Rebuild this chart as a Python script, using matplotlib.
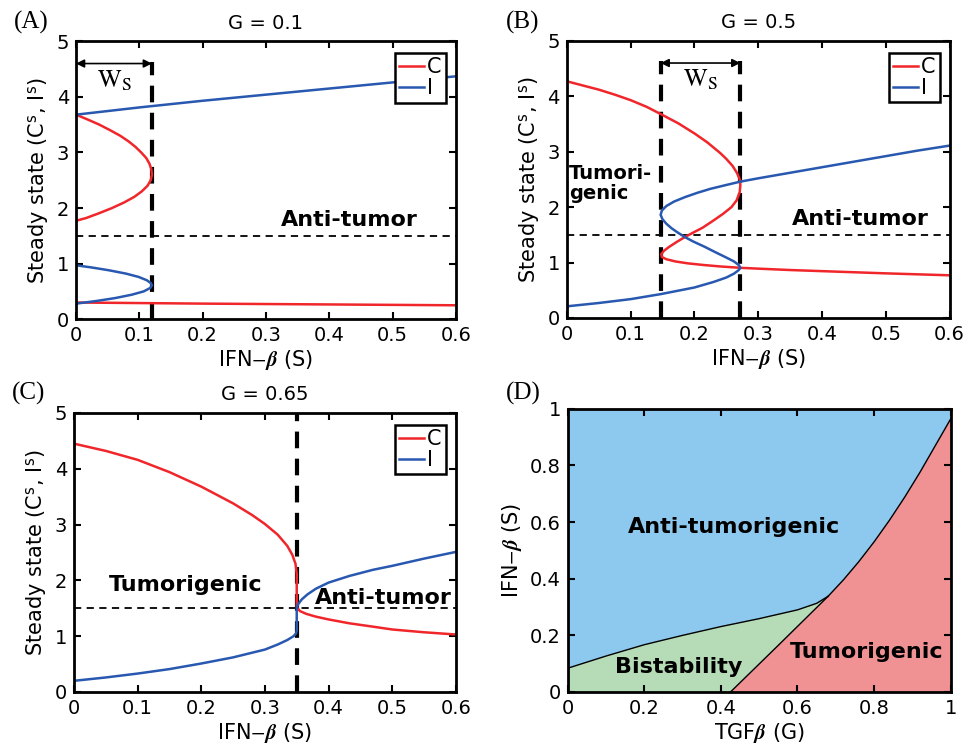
import matplotlib.pyplot as plt

plt.rcParams['font.family'] = ['DejaVu Sans']
plt.rcParams['mathtext.fontset'] = 'stix'

RED = '#f0262a'
BLUE = '#2858b0'

# (A) G = 0.1
a_iup_s = [0, 0.1, 0.2, 0.3, 0.4, 0.5, 0.6]
a_iup_v = [3.68, 3.81, 3.93, 4.04, 4.15, 4.26, 4.37]
a_clow_s = [0, 0.2, 0.4, 0.6]
a_clow_v = [0.30, 0.28, 0.265, 0.25]
a_cfold_s = [0, 0.017, 0.037, 0.054, 0.070, 0.083, 0.094, 0.103, 0.111, 0.116, 0.119,
             0.12, 0.118, 0.113, 0.104, 0.092, 0.076, 0.057, 0.035, 0.016, 0]
a_cfold_v = [3.68, 3.60, 3.50, 3.40, 3.30, 3.20, 3.10, 3.00, 2.90, 2.80, 2.70,
             2.60, 2.50, 2.40, 2.30, 2.20, 2.10, 2.00, 1.90, 1.82, 1.77]
a_ifold_s = [0, 0.025, 0.052, 0.079, 0.099, 0.112, 0.118, 0.12, 0.117, 0.107,
             0.088, 0.062, 0.034, 0.014, 0]
a_ifold_v = [0.97, 0.93, 0.88, 0.82, 0.76, 0.70, 0.65, 0.61, 0.56, 0.50,
             0.44, 0.38, 0.33, 0.30, 0.28]
a_sn = 0.12

# (B) G = 0.5
b_c_s = [0, 0.05, 0.075, 0.1, 0.125, 0.147, 0.175, 0.2, 0.22, 0.24, 0.25, 0.26, 0.267,
         0.271, 0.272, 0.271,
         0.266, 0.258, 0.245, 0.23, 0.213, 0.198, 0.185, 0.172, 0.16, 0.152, 0.148,
         0.149, 0.156, 0.17, 0.19, 0.215, 0.24, 0.272, 0.3, 0.35, 0.4, 0.45, 0.5, 0.6]
b_c_v = [4.27, 4.12, 4.03, 3.93, 3.81, 3.68, 3.51, 3.33, 3.17, 2.98, 2.87, 2.74, 2.61,
         2.50, 2.40, 2.27,
         2.12, 2.00, 1.88, 1.76, 1.63, 1.54, 1.46, 1.37, 1.28, 1.21, 1.15,
         1.10, 1.06, 1.02, 0.985, 0.955, 0.93, 0.905, 0.89, 0.865, 0.845, 0.825, 0.805, 0.77]
b_i_s = [0, 0.05, 0.1, 0.147, 0.2, 0.23, 0.25, 0.262, 0.269, 0.272, 0.27, 0.262,
         0.25, 0.234, 0.215, 0.198, 0.185, 0.174, 0.164, 0.156, 0.15, 0.147, 0.149,
         0.156, 0.168, 0.185, 0.205, 0.225, 0.25, 0.272, 0.3, 0.35, 0.4, 0.45, 0.5,
         0.55, 0.6]
b_i_v = [0.21, 0.27, 0.34, 0.43, 0.55, 0.65, 0.73, 0.80, 0.86, 0.90, 0.95, 1.02,
         1.09, 1.18, 1.29, 1.38, 1.46, 1.54, 1.62, 1.70, 1.78, 1.86, 1.94,
         2.02, 2.10, 2.18, 2.26, 2.33, 2.40, 2.46, 2.52, 2.62, 2.72, 2.82, 2.92,
         3.02, 3.11]
b_sn = [0.147, 0.272]

# (C) G = 0.65
c_c_s = [0, 0.05, 0.1, 0.15, 0.2, 0.25, 0.28, 0.3, 0.32, 0.335, 0.343, 0.348, 0.35,
         0.35, 0.355, 0.365, 0.38, 0.40, 0.433, 0.47, 0.5, 0.55, 0.6]
c_c_v = [4.45, 4.32, 4.16, 3.94, 3.68, 3.38, 3.17, 3.01, 2.82, 2.62, 2.46, 2.30, 2.12,
         1.52, 1.45, 1.40, 1.35, 1.30, 1.23, 1.17, 1.12, 1.07, 1.03]
c_i_s = [0, 0.05, 0.1, 0.15, 0.2, 0.25, 0.3, 0.32, 0.335, 0.345, 0.349, 0.35,
         0.35, 0.352, 0.358, 0.367, 0.38, 0.40, 0.433, 0.47, 0.5, 0.55, 0.6]
c_i_v = [0.20, 0.26, 0.33, 0.41, 0.51, 0.62, 0.76, 0.85, 0.93, 1.00, 1.05, 1.10,
         1.50, 1.57, 1.66, 1.75, 1.85, 1.96, 2.08, 2.19, 2.26, 2.39, 2.51]
c_sn = 0.35

# (D) phase diagram
d_bi_up_g = [0, 0.1, 0.2, 0.3, 0.4, 0.5, 0.6, 0.65, 0.68]
d_bi_up_s = [0.084, 0.127, 0.167, 0.200, 0.231, 0.259, 0.290, 0.313, 0.338]
d_bi_low_g = [0.425, 0.55, 0.68]
d_bi_low_s = [0, 0.165, 0.338]
d_tum_g = [0.68, 0.72, 0.76, 0.80, 0.84, 0.88, 0.92, 0.96, 1.0]
d_tum_s = [0.338, 0.396, 0.460, 0.530, 0.606, 0.688, 0.776, 0.870, 0.964]

xlab = r'IFN$-\boldsymbol{\beta}$ (S)'
ylab = r'Steady state (C$^\mathregular{s}$, I$^\mathregular{s}$)'

fig = plt.figure(figsize=(9.79, 7.51), dpi=100)
axA = fig.add_axes([0.0776, 0.575, 0.388, 0.370])
axB = fig.add_axes([0.579, 0.5766, 0.391, 0.369])
axC = fig.add_axes([0.0756, 0.0786, 0.390, 0.3715])
axD = fig.add_axes([0.580, 0.0786, 0.391, 0.377])


def style(ax, xt, xl, yt, yl):
    ax.set_xticks(xt)
    ax.set_xticklabels(xl)
    ax.set_yticks(yt)
    ax.set_yticklabels(yl)
    ax.tick_params(direction='in', top=True, right=True, length=5, width=1.5,
                   labelsize=14, pad=5)
    for sp in ax.spines.values():
        sp.set_linewidth(2)


def bif_panel(ax, title):
    ax.set_xlim(0, 0.6)
    ax.set_ylim(0, 5)
    style(ax, [0, 0.1, 0.2, 0.3, 0.4, 0.5, 0.6],
          ['0', '0.1', '0.2', '0.3', '0.4', '0.5', '0.6'],
          [0, 1, 2, 3, 4, 5], ['0', '1', '2', '3', '4', '5'])
    ax.set_title(title, fontsize=14, pad=9)
    ax.set_xlabel(xlab, fontsize=15, labelpad=2)
    ax.set_ylabel(ylab, fontsize=15, labelpad=4)
    ax.axhline(1.5, color='k', lw=1.3, ls=(0, (4, 3)), zorder=1)


def legend(ax):
    lg = ax.legend(loc='upper right', fontsize=15, handlelength=1.2,
                   handletextpad=0.15, borderpad=0.2, labelspacing=0.05,
                   borderaxespad=0, fancybox=False, framealpha=1, edgecolor='k',
                   bbox_to_anchor=(0.974, 0.957))
    lg.get_frame().set_linewidth(1.8)


def ws_arrow(ax, x0, x1):
    ax.annotate('', xy=(x0, 4.6), xytext=(x1, 4.6),
                arrowprops=dict(arrowstyle='<|-|>', color='k', lw=1.2,
                                mutation_scale=12, shrinkA=0, shrinkB=0))
    ax.text((x0 + x1) / 2, 4.3, r'$\mathrm{W_S}$', fontsize=18,
            ha='center', va='center')


vdash = dict(color='k', lw=3, ls=(0, (4, 2.5)), zorder=1)
bold = dict(fontsize=16, fontweight='bold', va='center')

# Panel A
bif_panel(axA, 'G = 0.1')
axA.plot(a_cfold_s, a_cfold_v, color=RED, lw=1.8, label='C')
axA.plot(a_iup_s, a_iup_v, color=BLUE, lw=1.8, label='I')
axA.plot(a_clow_s, a_clow_v, color=RED, lw=1.8)
axA.plot(a_ifold_s, a_ifold_v, color=BLUE, lw=1.8)
axA.plot([a_sn, a_sn], [0, 4.63], **vdash)
ws_arrow(axA, 0, a_sn)
axA.text(0.432, 1.78, 'Anti-tumor', ha='center', **bold)
legend(axA)

# Panel B
bif_panel(axB, 'G = 0.5')
axB.plot(b_c_s, b_c_v, color=RED, lw=1.8, label='C')
axB.plot(b_i_s, b_i_v, color=BLUE, lw=1.8, label='I')
for s in b_sn:
    axB.plot([s, s], [0, 4.63], **vdash)
ws_arrow(axB, b_sn[0], b_sn[1])
axB.text(0.003, 2.43, 'Tumori-\ngenic', ha='left', linespacing=1.1,
         fontsize=14, fontweight='bold', va='center')
axB.text(0.46, 1.78, 'Anti-tumor', ha='center', **bold)
legend(axB)

# Panel C
bif_panel(axC, 'G = 0.65')
axC.plot(c_c_s, c_c_v, color=RED, lw=1.8, label='C')
axC.plot(c_i_s, c_i_v, color=BLUE, lw=1.8, label='I')
axC.plot([c_sn, c_sn], [0, 5], **vdash)
axC.text(0.175, 1.92, 'Tumorigenic', ha='center', **bold)
axC.text(0.486, 1.68, 'Anti-tumor', ha='center', **bold)
legend(axC)

# Panel D
axD.set_xlim(0, 1)
axD.set_ylim(0, 1)
axD.set_facecolor('#8dc8ee')
green_g = d_bi_up_g + d_bi_low_g[::-1] + [0]
green_s = d_bi_up_s + d_bi_low_s[::-1] + [0]
axD.fill(green_g, green_s, color='#b6dcb7', lw=0)
red_g = d_bi_low_g + d_tum_g[1:] + [1.0]
red_s = d_bi_low_s + d_tum_s[1:] + [0]
axD.fill(red_g, red_s, color='#f09294', lw=0)
axD.plot(d_bi_up_g, d_bi_up_s, color='k', lw=1)
axD.plot(d_bi_low_g, d_bi_low_s, color='k', lw=1)
axD.plot(d_tum_g, d_tum_s, color='k', lw=1)
style(axD, [0, 0.2, 0.4, 0.6, 0.8, 1], ['0', '0.2', '0.4', '0.6', '0.8', '1'],
      [0, 0.2, 0.4, 0.6, 0.8, 1], ['0', '0.2', '0.4', '0.6', '0.8', '1'])
axD.set_xlabel(r'TGF$\boldsymbol{\beta}$ (G)', fontsize=15, labelpad=2)
axD.set_ylabel(xlab, fontsize=15, labelpad=4)
axD.text(0.433, 0.584, 'Anti-tumorigenic', ha='center', **bold)
axD.text(0.29, 0.087, 'Bistability', ha='center', **bold)
axD.text(0.78, 0.142, 'Tumorigenic', ha='center', **bold)

# panel letters
for lab, x, y in [('(A)', 0.014, 0.970), ('(B)', 0.517, 0.970),
                  ('(C)', 0.012, 0.476), ('(D)', 0.517, 0.476)]:
    fig.text(x, y, lab, fontsize=18, family='Liberation Serif', ha='left', va='center')

fig.savefig('out.png', dpi=100)
